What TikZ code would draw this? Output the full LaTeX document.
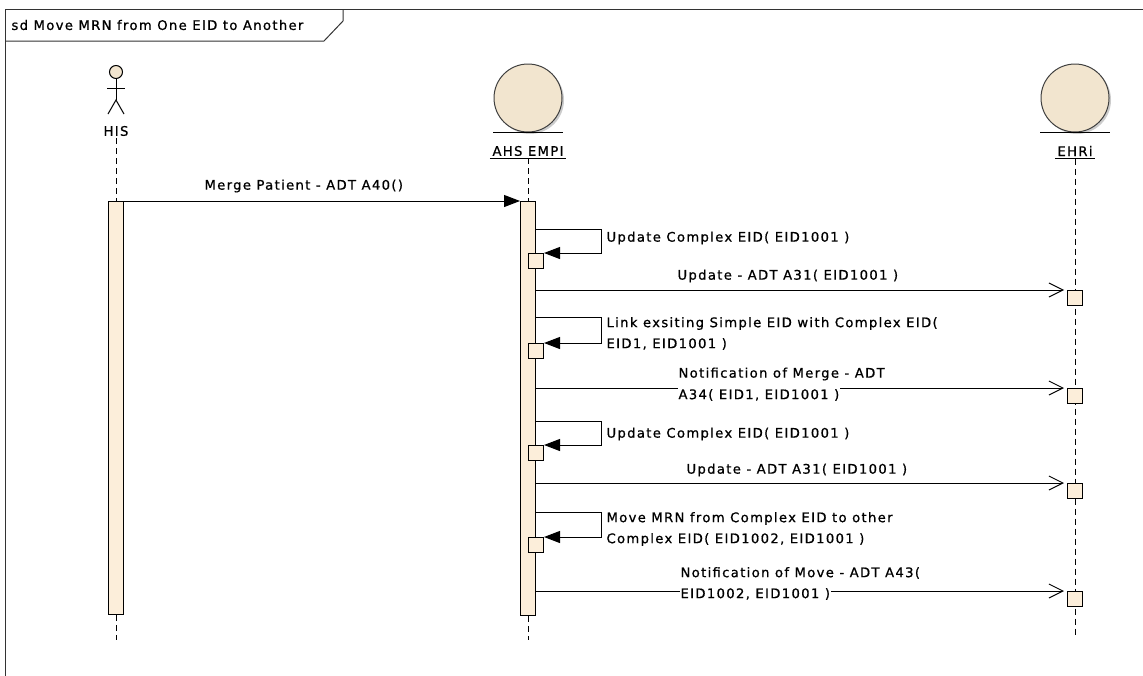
\documentclass[tikz,border=0pt]{standalone}
\usepackage{fontspec}
\setmainfont{DejaVu Sans}[LetterSpace=10,FakeBold=0.8]
\usetikzlibrary{arrows.meta,positioning}
\definecolor{actfill}{RGB}{252,238,218}
\definecolor{entfill}{RGB}{242,229,207}

\begin{document}
\begin{tikzpicture}[x=1pt, y=-1pt, line width=1pt, font=\fontsize{13.2}{21}\selectfont,
  actbar/.style = {draw, fill=actfill, inner sep=0pt, minimum width=15pt, anchor=north},
  exec/.style = {draw, fill=actfill, inner sep=0pt, minimum size=15pt},
  entity/.style = {draw=black!75, fill=entfill, circle, inner sep=0pt, minimum size=68pt},
  lifename/.style = {inner sep=2pt},
  life/.style = {dash pattern=on 6pt off 4pt},
  sync/.style = {-{Triangle[length=16pt,width=12pt]}},
  async/.style = {-{Straight Barb[length=14pt,width=14pt]}, shorten >=3pt},
  lbl/.style = {anchor=west, inner sep=1pt, align=left}]
\useasboundingbox (0,0) rectangle (1143,675);
\draw[black!80] (5,680) -- (5,9) -- (1150,9);
\draw[black!80] (5,41) -- (324,41) -- (343,21) -- (343,9);
\node[lbl] (title) at (10,25) {sd Move MRN from One EID to Another};

\node[circle, draw, fill=entfill, minimum size=13pt, inner sep=0pt] (hishead) at (116,72) {};
\coordinate (hiship) at (116,100);
\draw (hishead) -- (hiship);
\draw (107,88) -- (125,88);
\draw (108,114) -- (hiship) -- (124,114);
\node[lifename] (his) at (116,131) {HIS};

\fill[black!20] (530,100) circle (34);
\node[entity] (empi) at (528,98) {};
\draw ([xshift=-35pt]empi.south) -- ([xshift=35pt]empi.south);
\node[lifename] (empiname) at (528,151) {AHS EMPI};
\draw (empiname.south west) -- (empiname.south east);

\fill[black!20] (1077,100) circle (34);
\node[entity] (ehri) at (1075,98) {};
\draw ([xshift=-35pt]ehri.south) -- ([xshift=35pt]ehri.south);
\node[lifename] (ehriname) at (1075,151) {EHRi};
\draw (ehriname.south west) -- (ehriname.south east);

\node[actbar, minimum height=413pt] (hisbar) at (116,201) {};
\node[actbar, minimum height=414pt] (empibar) at (528,201) {};
\coordinate (hisend) at (116,640);
\coordinate (empiend) at (528,640);
\coordinate (ehriend) at (1075,637);
\draw[life] (his) -- (hisbar);
\draw[life] (hisbar) -- (hisend);
\draw[life] (empiname) -- (empibar);
\draw[life] (empibar) -- (empiend);
\draw[life] (ehriname) -- (ehriend);

\draw[sync] (hisbar.north east) -- (empibar.north west);
\node[lbl] at (203,186) {Merge Patient - ADT A40()};

\coordinate (s1) at (601,229);
\node[exec, anchor=north west] (b1) at (528,253) {};
\draw[sync] (empibar.east |- s1) -- (s1) |- (b1.north east);
\node[lbl] at (605,238) {Update Complex EID( EID1001 )};

\node[exec, anchor=north] (r2) at (1075,290) {};
\draw[async] (empibar.east |- r2.north) -- (r2.north west);
\node[lbl] at (676,276) {Update - ADT A31( EID1001 )};

\coordinate (s3) at (601,317);
\node[exec, anchor=north west] (b3) at (528,343) {};
\draw[sync] (empibar.east |- s3) -- (s3) |- (b3.north east);
\node[lbl] at (605,333.5) {Link exsiting Simple EID with Complex EID(\\EID1, EID1001 )};

\node[exec, anchor=north] (r4) at (1075,388) {};
\draw[async] (empibar.east |- r4.north) -- (r4.north west);
\node[lbl] at (677,374) {Notification of Merge - ADT};
\node[lbl, fill=white] at (677,395) {A34( EID1, EID1001 )};

\coordinate (s5) at (601,421);
\node[exec, anchor=north west] (b5) at (528,445) {};
\draw[sync] (empibar.east |- s5) -- (s5) |- (b5.north east);
\node[lbl] at (605,434) {Update Complex EID( EID1001 )};

\node[exec, anchor=north] (r6) at (1075,483) {};
\draw[async] (empibar.east |- r6.north) -- (r6.north west);
\node[lbl] at (685,470) {Update - ADT A31( EID1001 )};

\coordinate (s7) at (601,512);
\node[exec, anchor=north west] (b7) at (528,537) {};
\draw[sync] (empibar.east |- s7) -- (s7) |- (b7.north east);
\node[lbl] at (605,529) {Move MRN from Complex EID to other\\Complex EID( EID1002, EID1001 )};

\node[exec, anchor=north] (r8) at (1075,591) {};
\draw[async] (empibar.east |- r8.north) -- (r8.north west);
\node[lbl] at (679,573) {Notification of Move - ADT A43(};
\node[lbl, fill=white] at (679,594) {EID1002, EID1001 )};
\end{tikzpicture}
\end{document}
